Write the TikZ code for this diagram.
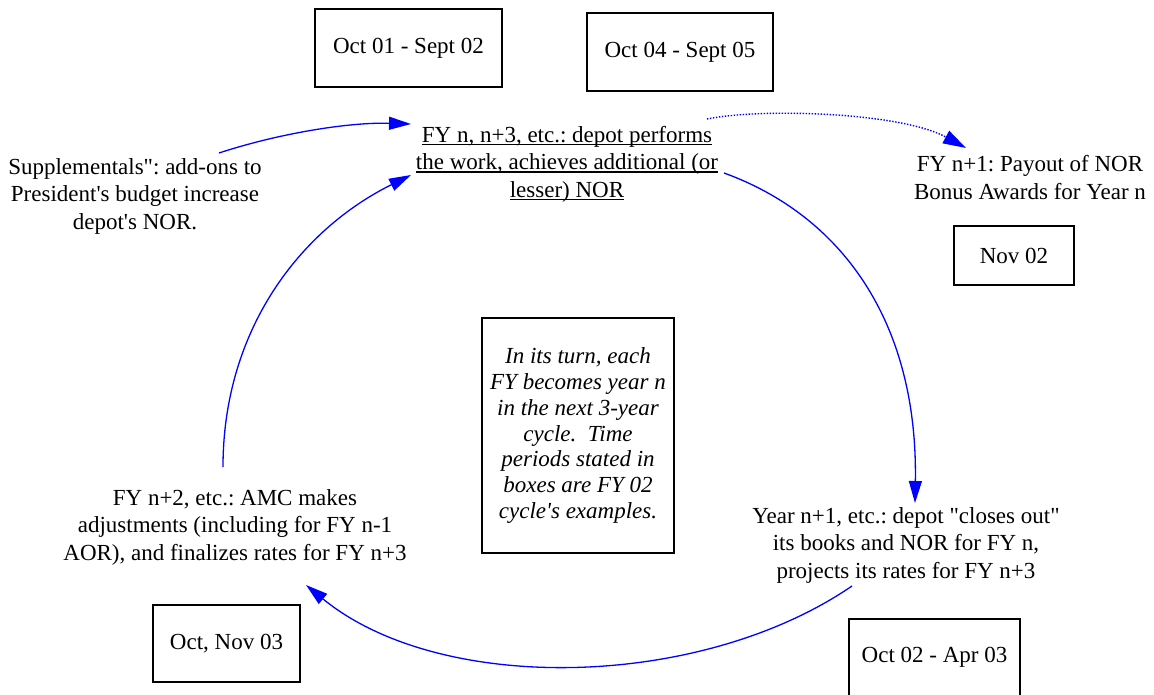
\documentclass[tikz,border=0pt]{standalone}
\usepackage{fontspec}
\setmainfont{Liberation Serif}
\newfontfamily\tnr{Liberation Serif}
\usetikzlibrary{arrows.meta}
\definecolor{arrowblue}{RGB}{0,0,255}
\newsavebox{\undlbox}
\newcommand{\undl}[1]{\sbox{\undlbox}{#1}\rlap{\rule[-3.2pt]{\wd\undlbox}{1.6pt}}\usebox{\undlbox}}
\frenchspacing
\begin{document}
\begin{tikzpicture}[x=1pt,y=-1pt,
  every node/.style={font=\tnr\fontsize{23}{27.5}\selectfont},
  txt/.style={align=center, inner sep=0pt},
  datebox/.style={draw=black, line width=1.4pt, align=center, inner sep=0pt},
  flow/.style={draw=arrowblue, line width=1.3pt, -{Triangle[length=22pt,width=13pt]}},
  dotflow/.style={draw=arrowblue, line width=1.4pt, dash pattern=on 1.4pt off 1.6pt, -{Triangle[length=23pt,width=14pt]}},
]
\useasboundingbox (0,0) rectangle (1154,694);

% date boxes
\node[datebox, minimum width=187pt, minimum height=78pt] (b1) at (408.5,48) {Oct 01 - Sept 02};
\node[datebox, minimum width=186pt, minimum height=78pt] (b2) at (680,52) {Oct 04 - Sept 05};
\node[datebox, minimum width=120pt, minimum height=59pt] (nov) at (1014,255.5) {Nov 02};
\node[datebox, minimum width=147pt, minimum height=77pt] (octnov) at (226.5,643.5) {Oct, Nov 03};
\node[datebox, minimum width=171pt, minimum height=77pt] (octapr) at (934.5,657.5) {Oct 02 - Apr 03};

% note box
\node[datebox, minimum width=192pt, minimum height=235pt,
      font=\tnr\itshape\fontsize{23}{25.8}\selectfont] (note) at (578,435.5)
  {In its turn, each\\FY becomes year n\\in the next 3-year\\cycle.\ \ Time\\periods stated in\\boxes are FY 02\\cycle's examples.};

% text nodes
\node[txt] (top) at (567,164) {\undl{FY n, n+3, etc.: depot performs}\\\undl{the work, achieves additional (or}\\\undl{lesser) NOR}};
\node[txt] (supp) at (135,196) {Supplementals": add-ons to\\President's budget increase\\depot's NOR.};
\node[txt] (fyn1) at (1030,177.5) {FY n+1: Payout of NOR\\Bonus Awards for Year n};
\node[txt] (yr) at (906,545) {Year n+1, etc.: depot "closes out"\\its books and NOR for FY n,\\projects its rates for FY n+3};
\node[txt] (fyn2) at (235,527) {FY n+2, etc.: AMC makes\\adjustments (including for FY n-1\\AOR), and finalizes rates for FY n+3};

% connector end points
\coordinate (supp-out) at (219,153);
\coordinate (top-in1) at (411,124);
\coordinate (fyn2-out) at (223,467);
\coordinate (top-in2) at (411,175);
\coordinate (top-out) at (724,173);
\coordinate (yr-in) at (915,503);
\coordinate (yr-out) at (852,586);
\coordinate (fyn2-in) at (306,585);
\coordinate (top-dot) at (707,119);
\coordinate (fyn1-in) at (966,148);

\draw[flow] (supp-out) .. controls (280,133) and (350,122) .. (top-in1);
\draw[flow] (fyn2-out) .. controls (223,330) and (300,230) .. (top-in2);
\draw[flow] (top-out) .. controls (840,215) and (918,320) .. (yr-in);
\draw[flow] (yr-out) .. controls (700,690) and (440,695) .. (fyn2-in);
\draw[dotflow] (top-dot) .. controls (760,108) and (900,112) .. (fyn1-in);
\end{tikzpicture}
\end{document}
